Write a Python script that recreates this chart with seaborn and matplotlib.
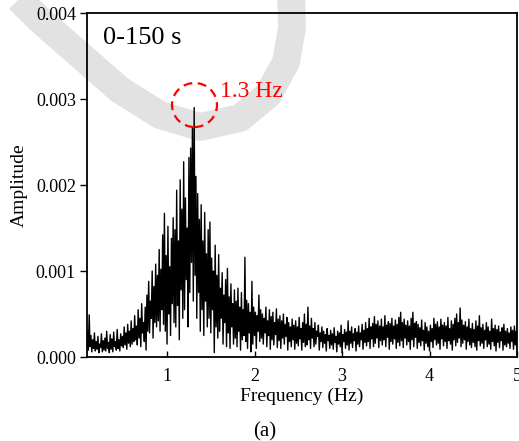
import numpy as np
import matplotlib
matplotlib.use("Agg")
import matplotlib.pyplot as plt
import seaborn as sns
from matplotlib.patches import Ellipse
from matplotlib.lines import Line2D
from matplotlib.ticker import FormatStrFormatter

# ---- data (amplitude in units of 1e-5, frequency grid 0.09..5.00 Hz, step 0.01) ----
freq_start = 0.09
freq_step = 0.01
amp_e5 = [
    30, 8, 49, 12, 25, 6, 20, 10, 28, 7,
    18, 9, 24, 5, 15, 11, 27, 6, 19, 8,
    22, 7, 30, 10, 17, 5, 26, 9, 21, 6,
    29, 12, 18, 8, 32, 10, 20, 7, 27, 13,
    24, 11, 35, 14, 28, 9, 38, 16, 30, 12,
    42, 15, 33, 18, 48, 20, 36, 14, 55, 22,
    45, 12, 62, 28, 40, 18, 58, 8, 72, 30,
    88, 28, 65, 45, 100, 22, 82, 40, 108, 35,
    95, 42, 125, 30, 102, 55, 142, 38, 167, 30,
    118, 15, 152, 50, 105, 25, 138, 62, 162, 40,
    148, 35, 194, 60, 135, 20, 206, 78, 172, 45,
    227, 55, 185, 90, 150, 35, 232, 75, 243, 110,
    267, 65, 290, 95, 210, 45, 190, 75, 160, 30,
    177, 55, 135, 25, 168, 65, 120, 35, 148, 45,
    157, 28, 115, 55, 100, 5, 130, 35, 95, 22,
    119, 30, 80, 45, 98, 15, 72, 40, 90, 12,
    103, 28, 70, 10, 85, 35, 62, 15, 78, 22,
    65, 12, 80, 30, 58, 8, 75, 20, 55, 25,
    116, 18, 66, 10, 62, 28, 52, 6, 88, 15,
    58, 25, 52, 10, 48, 30, 72, 18, 55, 22,
    50, 15, 45, 28, 58, 12, 42, 25, 55, 9,
    47, 20, 52, 14, 40, 26, 56, 11, 44, 19,
    48, 10, 42, 22, 50, 15, 38, 24, 46, 8,
    40, 18, 35, 12, 44, 20, 37, 9, 42, 16,
    35, 13, 46, 21, 33, 8, 40, 17, 50, 12,
    38, 14, 58, 20, 36, 10, 45, 22, 33, 12,
    40, 15, 30, 24, 37, 8, 28, 18, 35, 11,
    30, 16, 26, 7, 33, 19, 25, 10, 31, 14,
    27, 9, 34, 17, 24, 6, 30, 15, 28, 12,
    37, 5, 26, 18, 32, 10, 29, 14, 42, 8,
    30, 16, 35, 11, 27, 19, 33, 7, 29, 15,
    36, 12, 28, 20, 38, 9, 31, 17, 40, 13,
    33, 18, 45, 10, 35, 21, 39, 12, 47, 16,
    38, 22, 42, 11, 36, 19, 44, 14, 35, 20,
    48, 12, 37, 23, 41, 9, 39, 18, 45, 15,
    36, 21, 43, 10, 38, 17, 46, 13, 52, 19,
    40, 11, 44, 22, 37, 14, 42, 18, 36, 9,
    45, 20, 52, 12, 39, 23, 41, 10, 38, 17,
    34, 13, 43, 19, 31, 8, 40, 16, 35, 12,
    30, 7, 37, 18, 33, 11, 45, 20, 38, 14,
    41, 16, 35, 9, 44, 21, 37, 13, 40, 18,
    36, 10, 46, 19, 33, 15, 42, 8, 38, 20,
    45, 13, 50, 17, 40, 22, 57, 12, 43, 16,
    37, 20, 41, 9, 35, 18, 44, 14, 33, 11,
    39, 17, 32, 12, 42, 8, 36, 19, 48, 13,
    34, 16, 38, 10, 31, 20, 40, 12, 35, 15,
    30, 9, 44, 18, 33, 13, 37, 7, 32, 17,
    36, 11, 29, 19, 34, 8, 38, 14, 30, 12,
    33, 16, 28, 10, 35, 18, 31, 9, 36, 14,
    30, 12,
]
x_ticks = [1, 2, 3, 4, 5]
y_ticks = [0.000, 0.001, 0.002, 0.003, 0.004]
panel_text = "0-150 s"
peak_text = "1.3 Hz"
peak_freq = 1.314
peak_amp = 0.00293

freq = np.round(freq_start + freq_step * np.arange(len(amp_e5)), 2)
amp = np.array(amp_e5) * 1e-5

# ---- style ----
sns.set_theme(style="ticks")
plt.rcParams["font.family"] = ["Liberation Serif", "DejaVu Serif"]

W, H = 519, 441
fig = plt.figure(figsize=(W / 100, H / 100), dpi=100)
ax = fig.add_axes([87 / W, 1 - 357 / H, (517 - 87) / W, (357 - 13) / H])
ax.set_facecolor("none")

# light grey watermark band (behind axes)
pts = [(5, -15), (40, 20), (80, 55), (120, 90), (160, 115), (200, 127),
       (240, 118), (268, 95), (286, 62), (292, 28), (291, -10)]
wx = [p[0] / W for p in pts]
wy = [1 - p[1] / H for p in pts]
fig.add_artist(Line2D(wx, wy, transform=fig.transFigure, color="#e2e2e2",
                      lw=20, solid_capstyle="butt", solid_joinstyle="round",
                      zorder=-5))

sns.lineplot(x=freq, y=amp, ax=ax, color="black", lw=1.0,
             estimator=None, sort=False)

ax.set_xlim(0.085, 5.0)
ax.set_ylim(0, 0.004)
ax.set_xticks(x_ticks)
ax.set_yticks(y_ticks)
ax.yaxis.set_major_formatter(FormatStrFormatter("%.3f"))
ax.tick_params(axis="x", direction="in", length=4, width=1, labelsize=13, pad=8, colors="black")
ax.tick_params(axis="y", direction="out", length=5, width=1, labelsize=13, pad=3, colors="black")
for s in ax.spines.values():
    s.set_linewidth(1.3)
    s.set_color("black")
    s.set_visible(True)

ax.set_xlabel("Frequency (Hz)", fontsize=14, color="black", labelpad=2)
ax.set_ylabel("Amplitude", fontsize=14, color="black", labelpad=6)

ax.text(0.269, 0.00371, panel_text, fontsize=19, ha="left", va="center", color="black")
ax.add_patch(Ellipse((peak_freq, peak_amp), 0.514, 0.000512, fill=False,
                     edgecolor="red", lw=1.6, ls=(0, (4, 2.5)), zorder=5))
ax.text(1.60, 0.00309, peak_text, fontsize=17, ha="left", va="center", color="red")

fig.text(265 / W, 1 - 432 / H, "(a)", fontsize=15, ha="center", va="center", color="black")

fig.savefig("out.png", dpi=100)
